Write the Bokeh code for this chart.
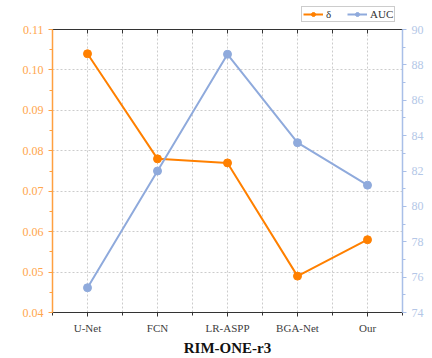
from bokeh.plotting import figure
from bokeh.layouts import column
from bokeh.models import (Range1d, LinearAxis, FixedTicker, Legend, LegendItem,
                          Title, NumeralTickFormatter)
from bokeh.embed import file_html
from bokeh.resources import INLINE

categories = ["U-Net", "FCN", "LR-ASPP", "BGA-Net", "Our"]
delta = [0.104, 0.078, 0.077, 0.049, 0.058]
auc = [75.4, 82.0, 88.6, 83.6, 81.2]
left_ticks = [0.04, 0.05, 0.06, 0.07, 0.08, 0.09, 0.10, 0.11]
right_ticks = [74, 76, 78, 80, 82, 84, 86, 88, 90]
series_names = ["δ", "AUC"]

xs = list(range(len(categories)))
bounds = [i - 0.5 for i in range(len(categories) + 1)]

ORANGE = "#ff8000"
ORANGE_L = "#ffa64d"
BLUE = "#8faadc"
BLUE_L = "#b4c7e7"
FONT = "Liberation Serif"

p = figure(width=430, height=334, output_backend="svg",
           toolbar_location=None, x_range=Range1d(-0.5, 4.5),
           y_range=Range1d(0.04, 0.11),
           min_border_left=52, min_border_right=28, min_border_top=7,
           min_border_bottom=44)
p.outline_line_color = None
p.background_fill_color = "white"

p.extra_y_ranges = {"auc": Range1d(74, 90)}

# x axis
p.xaxis.ticker = FixedTicker(ticks=xs, minor_ticks=bounds)
p.xaxis.major_label_overrides = {i: c for i, c in enumerate(categories)}
p.xaxis.major_label_text_font = FONT
p.xaxis.major_label_text_font_size = "11px"
p.xaxis.major_label_text_color = "#404040"
p.xaxis.axis_line_color = "#333333"
p.xaxis.axis_line_width = 1.2
p.xaxis.major_tick_line_color = "#333333"
p.xaxis.minor_tick_line_color = "#333333"
p.xaxis.major_tick_out = 4
p.xaxis.major_tick_in = 0
p.xaxis.minor_tick_out = 3
p.xaxis.minor_tick_in = 0
p.xaxis.major_label_standoff = 5

# top axis (mirror, ticks inward, no labels)
top = LinearAxis(ticker=FixedTicker(ticks=xs, minor_ticks=bounds),
                 major_label_overrides={i: "" for i in xs},
                 axis_line_color="#333333",
                 axis_line_width=1.2, major_tick_in=4, major_tick_out=0,
                 minor_tick_in=4, minor_tick_out=0, major_label_standoff=0,
                 major_tick_line_color="#333333", minor_tick_line_color="#333333")
p.add_layout(top, "above")

# left axis
p.yaxis.ticker = FixedTicker(ticks=left_ticks,
                             minor_ticks=[0.045, 0.055, 0.065, 0.075, 0.085, 0.095, 0.105])
p.yaxis.formatter = NumeralTickFormatter(format="0.00")
p.yaxis.major_label_text_font = FONT
p.yaxis.major_label_text_font_size = "12px"
p.yaxis.major_label_text_color = ORANGE_L
p.yaxis.axis_line_color = "#ffa040"
p.yaxis.axis_line_width = 1.5
p.yaxis.major_tick_line_color = "#ffa040"
p.yaxis.minor_tick_line_color = "#ffa040"
p.yaxis.major_tick_out = 4
p.yaxis.major_tick_in = 0
p.yaxis.minor_tick_out = 3
p.yaxis.minor_tick_in = 0
p.yaxis.major_label_standoff = 5

# right axis
right = LinearAxis(y_range_name="auc",
                   ticker=FixedTicker(ticks=right_ticks,
                                      minor_ticks=[75, 77, 79, 81, 83, 85, 87, 89]))
right.major_label_text_font = FONT
right.major_label_text_font_size = "12px"
right.major_label_text_color = BLUE_L
right.axis_line_color = "#a9bfe8"
right.axis_line_width = 1.5
right.major_tick_line_color = "#a9bfe8"
right.minor_tick_line_color = "#a9bfe8"
right.major_tick_out = 4
right.major_tick_in = 0
right.minor_tick_out = 3
right.minor_tick_in = 0
right.major_label_standoff = 5
p.add_layout(right, "right")

# grids
p.xgrid.ticker = FixedTicker(ticks=bounds + xs)
p.xgrid.grid_line_color = "#cccccc"
p.xgrid.grid_line_dash = "2 2"
p.ygrid.grid_line_color = "#cccccc"
p.ygrid.grid_line_dash = "2 2"

# data
p.line(xs, delta, line_color=ORANGE, line_width=2)
p.scatter(xs, delta, size=8, fill_color=ORANGE, line_color=ORANGE)
p.line(xs, auc, line_color=BLUE, line_width=2, y_range_name="auc")
p.scatter(xs, auc, size=8, fill_color=BLUE, line_color=BLUE, y_range_name="auc")

p.add_layout(Title(text="RIM-ONE-r3", align="center", text_font=FONT,
                   text_font_size="15px", text_font_style="bold",
                   text_color="#111111", standoff=2), "below")

# legend strip above the plot (its frame is aligned with the main frame)
lg = figure(width=430, height=22, output_backend="svg", toolbar_location=None,
            x_range=Range1d(100, 101), y_range=Range1d(100, 101),
            x_axis_location=None, y_axis_location=None, min_border=0)
lg.grid.visible = False
lg.outline_line_color = None
items = []
for name, col, vals in zip(series_names, [ORANGE, BLUE], [delta, auc]):
    ln = lg.line(xs, vals, line_color=col, line_width=2)
    mk = lg.scatter(xs, vals, size=6, fill_color=col, line_color=col)
    items.append(LegendItem(label=name, renderers=[ln, mk]))
legend = Legend(items=items, orientation="horizontal", location=(249, 0),
                label_text_font=FONT, label_text_font_size="11px",
                label_text_color="#333333", glyph_width=20, glyph_height=10,
                label_standoff=3, spacing=1, padding=1, margin=0,
                label_height=10, border_line_color="#999999",
                background_fill_alpha=1)
lg.add_layout(legend, "center")

layout = column(lg, p, spacing=0)
open("out.html", "w").write(file_html(layout, INLINE))
